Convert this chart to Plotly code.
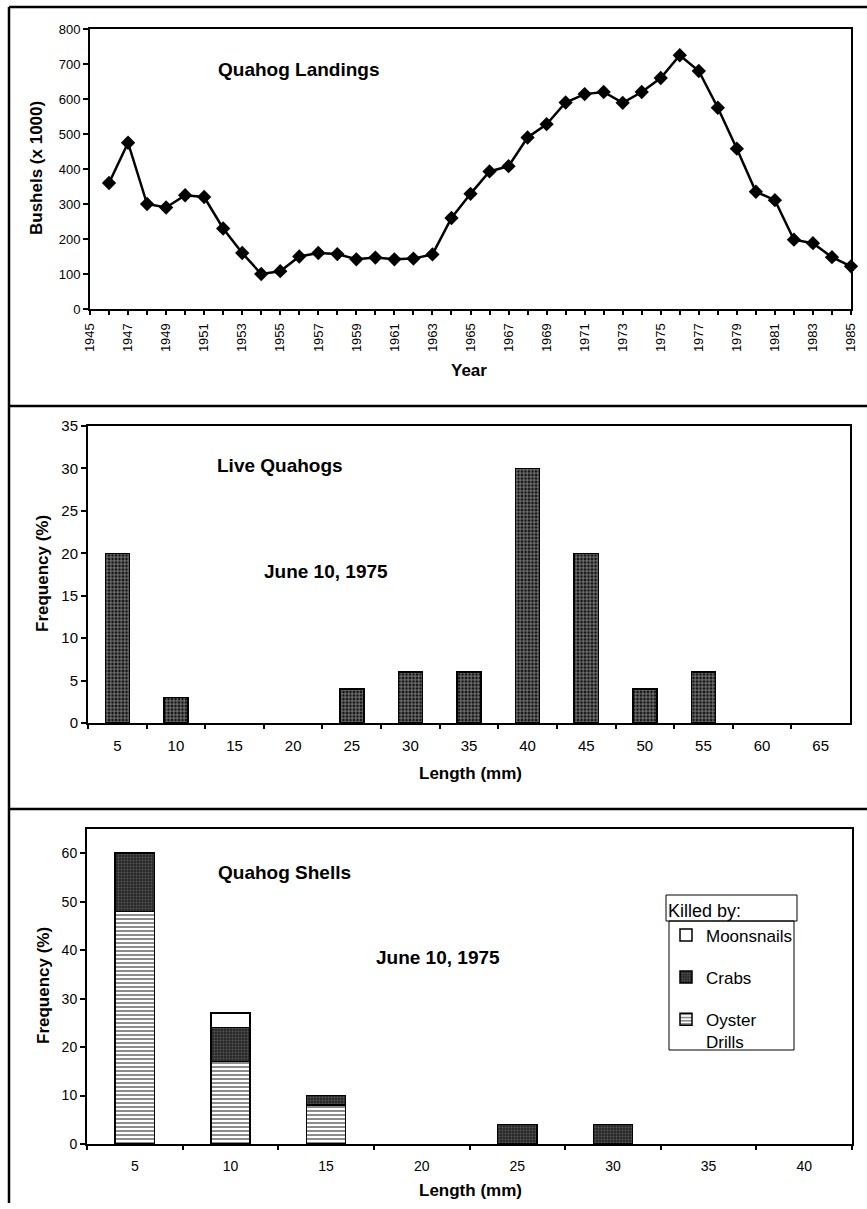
import plotly.graph_objects as go

W, H = 867, 1209

# ---------------- data ----------------
years = list(range(1946, 1986))
landings = [360, 475, 300, 290, 325, 320, 230, 160, 100, 108,
            150, 160, 157, 142, 147, 142, 144, 156, 260, 329,
            393, 408, 490, 528, 590, 614, 620, 589, 620, 660,
            725, 680, 575, 458, 335, 311, 198, 188, 148, 122]
year_ticks = list(range(1945, 1986))
year_labels = [str(y) if y % 2 == 1 else "" for y in year_ticks]

live_lengths = ["5", "10", "15", "20", "25", "30", "35", "40", "45", "50", "55", "60", "65"]
live_freq = [20, 3, 0, 0, 4, 6, 6, 30, 20, 4, 6, 0, 0]

shell_lengths = ["5", "10", "15", "20", "25", "30", "35", "40"]
oyster_drills = [48, 17, 8, 0, 0, 0, 0, 0]
crabs = [12, 7, 2, 0, 4, 4, 0, 0]
moonsnails = [0, 3, 0, 0, 0, 0, 0, 0]

# ---------------- helpers ----------------
def px(x):
    return x / W

def py(y):
    return 1 - y / H

def nz(vals):
    # empty bins are drawn as nothing
    return [v if v else None for v in vals]

FONT = "Liberation Sans, Arial, sans-serif"

fig = go.Figure()

# Top: landings line
fig.add_trace(go.Scatter(
    x=years, y=landings, mode="lines+markers",
    line=dict(color="black", width=2.5),
    marker=dict(symbol="diamond", size=11, color="black"),
    cliponaxis=False, showlegend=False, xaxis="x", yaxis="y"))

# Middle: live quahogs
fig.add_trace(go.Bar(
    x=live_lengths, y=nz(live_freq), width=0.41,
    marker=dict(color="#111111", line=dict(color="black", width=1.5),
                pattern=dict(shape="+", fgcolor="white", bgcolor="#111111",
                             size=3.5, solidity=0.45, fillmode="overlay")),
    showlegend=False, xaxis="x2", yaxis="y2"))

# Bottom: shells stacked
bar_line = dict(color="black", width=1.5)
fig.add_trace(go.Bar(
    x=shell_lengths, y=nz(oyster_drills), width=0.41, name="Oyster<br>Drills",
    legendgroup="o", legendrank=3,
    marker=dict(color="white", line=bar_line,
                pattern=dict(shape="-", fgcolor="black", bgcolor="white",
                             size=4, solidity=0.45, fillmode="overlay")),
    xaxis="x3", yaxis="y3"))
fig.add_trace(go.Bar(
    x=shell_lengths, y=nz(crabs), width=0.41, name="Crabs", legendgroup="c",
    legendrank=2,
    marker=dict(color="#262626", line=bar_line,
                pattern=dict(shape=".", fgcolor="#8a8a8a", bgcolor="#262626",
                             size=3, solidity=0.35, fillmode="overlay")),
    xaxis="x3", yaxis="y3"))
fig.add_trace(go.Bar(
    x=shell_lengths, y=nz(moonsnails), width=0.41, name="Moonsnails", legendgroup="m",
    legendrank=1,
    marker=dict(color="white", line=bar_line),
    xaxis="x3", yaxis="y3"))


def axis(size, **kw):
    d = dict(showline=True, linecolor="black", linewidth=2, mirror=True,
             ticks="outside", tickcolor="black", ticklen=5, tickwidth=1.5,
             showgrid=False, zeroline=False, automargin=False,
             tickfont=dict(family=FONT, size=size, color="black"))
    d.update(kw)
    return d


def cross(over, anchor, rng, vals):
    # inner half of the crossing tick marks on the x axes
    return dict(overlaying=over, anchor=anchor, range=rng, tickmode="array",
                tickvals=vals, ticks="inside", ticklen=4, tickwidth=1.5,
                tickcolor="black", showticklabels=False, showline=False,
                showgrid=False, zeroline=False, automargin=False)


n_live = len(live_lengths)
n_shell = len(shell_lengths)

fig.update_layout(
    template="none",
    width=W, height=H,
    margin=dict(l=0, r=0, t=0, b=0, pad=0, autoexpand=False),
    paper_bgcolor="white", plot_bgcolor="white",
    font=dict(family=FONT, color="black"),
    barmode="stack",
    xaxis=axis(13, domain=[px(90), px(851)], range=[1945, 1985],
               tickmode="array", tickvals=year_ticks, ticktext=year_labels,
               tickangle=-90, anchor="y", ticklabelstandoff=3, ticklen=4),
    yaxis=axis(13, domain=[py(309), py(29)], range=[0, 800], dtick=100, anchor="x"),
    xaxis2=axis(15, domain=[px(88), px(850)], type="category",
                tickson="boundaries", anchor="y2", ticklabelstandoff=8, ticklen=4),
    yaxis2=axis(15, domain=[py(723), py(426)], range=[0, 35], dtick=5, anchor="x2"),
    xaxis3=axis(14, domain=[px(87), px(852)], type="category",
                tickson="boundaries", anchor="y3", ticklabelstandoff=8, ticklen=4),
    yaxis3=axis(14, domain=[py(1144), py(829)], range=[0, 65],
                tickvals=[0, 10, 20, 30, 40, 50, 60], anchor="x3"),
    xaxis4=cross("x", "y", [1945, 1985], year_ticks),
    xaxis5=cross("x2", "y2", [-0.5, n_live - 0.5], [i + 0.5 for i in range(-1, n_live)]),
    xaxis6=cross("x3", "y3", [-0.5, n_shell - 0.5], [i + 0.5 for i in range(-1, n_shell)]),
    legend=dict(x=px(666), y=py(894), xanchor="left", yanchor="top",
                bgcolor="rgba(0,0,0,0)", borderwidth=0,
                traceorder="grouped", tracegroupgap=17, valign="top",
                font=dict(family=FONT, size=17, color="black"),
                title=dict(text="Killed by:", font=dict(family=FONT, size=18, color="black"))),
)

bold = dict(family=FONT, size=19, color="black")
axis_title_font = dict(family=FONT, size=17, color="black")

annotations = [
    dict(text="<b>Quahog Landings</b>", x=px(299), y=py(70), font=bold),
    dict(text="<b>Live Quahogs</b>", x=px(280), y=py(466), font=bold),
    dict(text="<b>June 10, 1975</b>", x=px(326), y=py(571), font=bold),
    dict(text="<b>Quahog Shells</b>", x=px(284), y=py(872), font=bold),
    dict(text="<b>June 10, 1975</b>", x=px(438), y=py(957), font=bold),
    dict(text="<b>Bushels (x 1000)</b>", x=px(37), y=py(168), textangle=-90, font=axis_title_font),
    dict(text="<b>Year</b>", x=px(469), y=py(370), font=axis_title_font),
    dict(text="<b>Frequency (%)</b>", x=px(42), y=py(574), textangle=-90, font=axis_title_font),
    dict(text="<b>Length (mm)</b>", x=px(470), y=py(773), font=axis_title_font),
    dict(text="<b>Frequency (%)</b>", x=px(43), y=py(986), textangle=-90, font=axis_title_font),
    dict(text="<b>Length (mm)</b>", x=px(470), y=py(1190), font=axis_title_font),
]
for a in annotations:
    a.update(xref="paper", yref="paper", showarrow=False, xanchor="center", yanchor="middle")
fig.update_layout(annotations=annotations)

frame = dict(color="black", width=2.5)
shapes = [
    dict(type="line", x0=px(9), x1=px(9), y0=py(7), y1=py(1203), line=frame),
    dict(type="line", x0=px(9), x1=px(867), y0=py(7), y1=py(7), line=frame),
    dict(type="line", x0=px(9), x1=px(867), y0=py(406), y1=py(406), line=frame),
    dict(type="line", x0=px(9), x1=px(867), y0=py(809), y1=py(809), line=frame),
    # legend boxes
    dict(type="rect", x0=px(666), x1=px(797), y0=py(895), y1=py(921),
         line=dict(color="black", width=1)),
    dict(type="rect", x0=px(669), x1=px(794), y0=py(921), y1=py(1050),
         line=dict(color="black", width=1)),
]
for s in shapes:
    s.update(xref="paper", yref="paper", layer="above")
fig.update_layout(shapes=shapes)

fig.write_html("out.html", config={"displayModeBar": False},
               post_script="document.body.style.margin='0';")
